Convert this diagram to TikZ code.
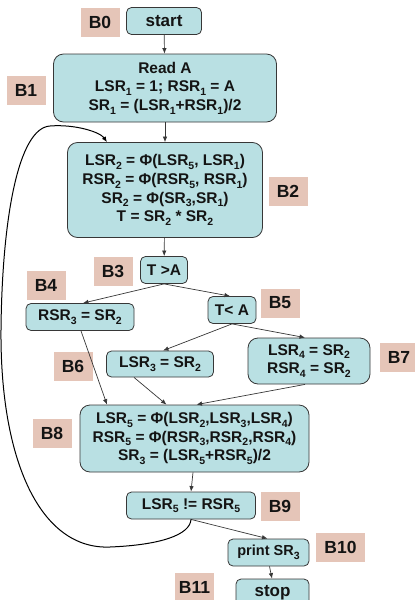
\documentclass[tikz,border=0pt]{standalone}
\usepackage{fontspec}
\setmainfont{Liberation Sans}
\usetikzlibrary{arrows.meta,calc}
\definecolor{boxfill}{RGB}{185,224,227}
\definecolor{tagfill}{RGB}{229,197,184}
\definecolor{edgecol}{RGB}{55,55,55}
\definecolor{ink}{RGB}{20,20,20}
% lowered small index, e.g. LSR\lo{1}
\newcommand\lo[1]{\raisebox{-3.6pt}{\fontsize{10.5}{10.5}\selectfont #1}}
\tikzset{
  blk/.style={draw=edgecol, line width=0.8pt, fill=boxfill, rounded corners=5pt,
    align=center, text=ink, inner sep=0pt,
    font=\bfseries\fontsize{15.5}{18.7}\selectfont},
  bigblk/.style={blk, rounded corners=10pt},
  tag/.style={fill=tagfill, text=ink, inner sep=0pt, minimum width=39pt, minimum height=29pt,
    font=\bfseries\fontsize{17.5}{17.5}\selectfont},
  arr/.style={draw=edgecol, line width=0.7pt, -{Latex[length=5.5pt,width=4.5pt]}},
  loopline/.style={draw=black, line width=1pt, -{Latex[length=5.5pt,width=4.5pt]}}
}
\begin{document}
\begin{tikzpicture}[x=1pt,y=-1pt]
\useasboundingbox (0,0) rectangle (415,600);
\clip (0,0) rectangle (415,600);

% blocks
\node[blk, minimum width=75pt, minimum height=27pt, font=\bfseries\fontsize{17}{17}\selectfont] (start) at (164,21) {start};
\node[bigblk, minimum width=223pt, minimum height=68pt] (b1) at (165,88)
  {Read A\\LSR\lo{1} = 1; RSR\lo{1} = A\\SR\lo{1} = (LSR\lo{1}+RSR\lo{1})/2};
\node[bigblk, minimum width=195pt, minimum height=95pt] (b2) at (165,190)
  {LSR\lo{2} = Φ(LSR\lo{5}, LSR\lo{1})\\RSR\lo{2} = Φ(RSR\lo{5}, RSR\lo{1})\\SR\lo{2} = Φ(SR\lo{3},SR\lo{1})\\T = SR\lo{2} * SR\lo{2}};
\node[blk, minimum width=47pt, minimum height=27pt] (b3) at (164,270) {T >A};
\node[blk, minimum width=108pt, minimum height=27pt] (b4) at (80,317) {RSR\lo{3} = SR\lo{2}};
\node[blk, minimum width=48pt, minimum height=27pt] (b5) at (232,310) {T< A};
\node[blk, minimum width=107pt, minimum height=26pt] (b6) at (160,364) {LSR\lo{3} = SR\lo{2}};
\node[bigblk, minimum width=122pt, minimum height=46pt] (b7) at (309,361) {LSR\lo{4} = SR\lo{2}\\RSR\lo{4} = SR\lo{2}};
\node[bigblk, minimum width=229pt, minimum height=67pt] (b8) at (194.5,438.5)
  {LSR\lo{5} = Φ(LSR\lo{2},LSR\lo{3},LSR\lo{4})\\RSR\lo{5} = Φ(RSR\lo{3},RSR\lo{2},RSR\lo{4})\\SR\lo{3} = (LSR\lo{5}+RSR\lo{5})/2};
\node[blk, minimum width=129pt, minimum height=27pt] (b9) at (191,505.5) {LSR\lo{5} != RSR\lo{5}};
\node[blk, minimum width=81pt, minimum height=27pt, font=\bfseries\fontsize{14.5}{14.5}\selectfont] (b10) at (268.5,552.5) {print SR\lo{3}};
\node[blk, minimum width=73pt, minimum height=27pt, font=\bfseries\fontsize{17}{17}\selectfont] (b11) at (272.5,592.5) {stop};

% block labels
\node[tag] (t0) at (100,22) {B0};
\node[tag] (t1) at (26,90) {B1};
\node[tag] (t2) at (288,191) {B2};
\node[tag] (t3) at (113,271) {B3};
\node[tag] (t4) at (46,285) {B4};
\node[tag] (t5) at (280,303) {B5};
\node[tag] (t6) at (73,366) {B6};
\node[tag] (t7) at (399,357) {B7};
\node[tag] (t8) at (52,433) {B8};
\node[tag] (t9) at (280,506) {B9};
\node[tag, minimum width=49pt] (t10) at (340.5,547.5) {B10};
\node[tag] (t11) at (194.5,587) {B11};

% control flow
\draw[arr] (start) -- (b1);
\draw[arr] (b1) -- (b2);
\draw[arr] (b2) -- (b3);
\draw[arr] (b3.south) -- ([xshift=3pt]b4.north);
\draw[arr] (b3.south) -- ([xshift=-2pt]b5.north);
\draw[arr] (b5.south) -- ([xshift=3pt]b6.north);
\draw[arr] (b5.south) -- ([xshift=-4pt]b7.north);
\draw[arr] ([xshift=1pt]b4.south) -- ([xshift=-87.5pt]b8.north);
\draw[arr] ([xshift=-26pt]b6.south) -- ([xshift=-28pt]b8.north);
\draw[arr] ([xshift=-4pt]b7.south) -- ([xshift=2pt]b8.north);
\draw[arr] ([xshift=-1.5pt]b8.south) -- (b9.north);
\draw[arr] (b9.south) -- ([xshift=-1pt]b10.north);
\draw[arr] ([xshift=1pt]b10.south) -- ([xshift=-0.5pt]b11.north);

% back edge of the loop
\coordinate (loopin) at ([xshift=-58pt]b2.north);
\draw[loopline] (b9.south) .. controls (190,535) and (160,545) .. (110,547)
  .. controls (40,550) and (0,460) .. (1,330)
  .. controls (2,220) and (18,128) .. (50,126)
  .. controls (75,124) and (100,132) .. (loopin);
\end{tikzpicture}
\end{document}
